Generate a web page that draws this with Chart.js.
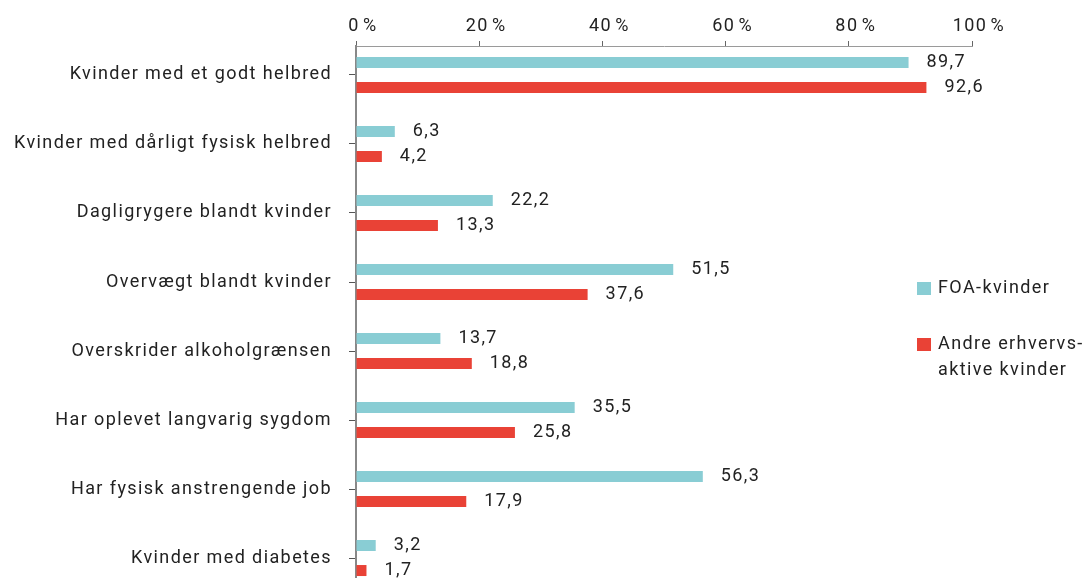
<!DOCTYPE html>
<html>
<head>
<meta charset="utf-8">
<script src="https://cdn.jsdelivr.net/npm/chart.js@4"></script>
<style>
  html, body { margin: 0; padding: 0; background: #fff; overflow: hidden; }
</style>
</head>
<body>
<canvas id="chart" width="1090" height="584"></canvas>
<script>
// Categories (top to bottom)
const categories = [
    'Kvinder med et godt helbred',
    'Kvinder med dårligt fysisk helbred',
    'Dagligrygere blandt kvinder',
    'Overvægt blandt kvinder',
    'Overskrider alkoholgrænsen',
    'Har oplevet langvarig sygdom',
    'Har fysisk anstrengende job',
    'Kvinder med diabetes'
];

// Series values (percent)
const foaValues = [89.7, 6.3, 22.2, 51.5, 13.7, 35.5, 56.3, 3.2];
const otherValues = [92.6, 4.2, 13.3, 37.6, 18.8, 25.8, 17.9, 1.7];

// Series names (legend, second one split over two lines)
const foaLabel = ['FOA-kvinder'];
const otherLabel = ['Andre erhvervs-', 'aktive kvinder'];

// Tick values on the x axis
const xTicks = [0, 20, 40, 60, 80, 100];

const colors = {
    foa: '#89cdd4',
    other: '#e94236',
    text: '#222222',
    axis: '#888888',
    tick: '#666666'
};

const fontFamily = 'Roboto, "Noto Sans", sans-serif';
const fontSize = 18;
const letterSpacing = '1.4px';

function formatValue(v) {
    return v.toFixed(1).replace('.', ',');
}

// The original font is spaced out a bit more than Roboto
const spacing = {
    id: 'spacing',
    beforeLayout(chart) { chart.ctx.letterSpacing = letterSpacing; },
    beforeDraw(chart) { chart.ctx.letterSpacing = letterSpacing; }
};

// Value labels right of each bar
const valueLabels = {
    id: 'valueLabels',
    afterDatasetsDraw(chart) {
        const ctx = chart.ctx;
        ctx.save();
        ctx.font = fontSize + 'px ' + fontFamily;
        ctx.fillStyle = colors.text;
        ctx.textAlign = 'left';
        ctx.textBaseline = 'middle';
        chart.data.datasets.forEach((ds, i) => {
            const meta = chart.getDatasetMeta(i);
            meta.data.forEach((bar, j) => {
                ctx.fillText(formatValue(ds.data[j]), bar.x + 18, bar.y);
            });
        });
        ctx.restore();
    }
};

// Legend at the right side of the plot
const sideLegend = {
    id: 'sideLegend',
    afterDraw(chart) {
        const ctx = chart.ctx;
        const area = chart.chartArea;
        const x = area.right - 55;
        ctx.save();
        ctx.font = fontSize + 'px ' + fontFamily;
        ctx.textAlign = 'left';
        ctx.textBaseline = 'middle';
        let y = 288;
        chart.data.datasets.forEach((ds) => {
            ctx.fillStyle = ds.backgroundColor;
            ctx.fillRect(x, y - 6, 14, 13);
            ctx.fillStyle = colors.text;
            ds.legendLines.forEach((line, k) => {
                ctx.fillText(line, x + 21, y + k * 26);
            });
            y += 56;
        });
        ctx.restore();
    }
};

new Chart(document.getElementById('chart'), {
    type: 'bar',
    data: {
        labels: categories,
        datasets: [
            {
                label: foaLabel.join(' '),
                legendLines: foaLabel,
                data: foaValues,
                backgroundColor: colors.foa,
                categoryPercentage: 0.725,
                barPercentage: 0.44
            },
            {
                label: otherLabel.join(' '),
                legendLines: otherLabel,
                data: otherValues,
                backgroundColor: colors.other,
                categoryPercentage: 0.725,
                barPercentage: 0.44
            }
        ]
    },
    options: {
        indexAxis: 'y',
        responsive: false,
        animation: false,
        layout: {
            padding: { top: 0, right: 118, bottom: 7, left: 0 }
        },
        plugins: {
            legend: { display: false },
            tooltip: { enabled: false }
        },
        scales: {
            x: {
                position: 'top',
                min: 0,
                max: 100,
                afterBuildTicks: (scale) => {
                    scale.ticks = xTicks.map(v => ({ value: v }));
                },
                afterFit: (scale) => {
                    scale.height = 46;
                },
                grid: {
                    drawOnChartArea: false,
                    drawTicks: true,
                    tickLength: 5,
                    color: colors.tick
                },
                border: {
                    display: true,
                    color: '#9a9a9a',
                    width: 1
                },
                ticks: {
                    color: colors.text,
                    padding: 4,
                    labelOffset: 7,
                    font: { family: fontFamily, size: fontSize },
                    callback: (v) => v + '\u200A%'
                }
            },
            y: {
                afterBuildTicks: (scale) => {
                    // top/bottom spacing of the original plot
                    scale._startValue = -0.42;
                    scale._valueRange = categories.length - 1 + 0.42 + 0.275;
                },
                afterFit: (scale) => {
                    scale.width = 356;
                    scale.paddingTop = 0;
                    scale.paddingBottom = 0;
                },
                grid: {
                    drawOnChartArea: false,
                    drawTicks: true,
                    tickLength: 7,
                    offset: false,
                    color: '#555555'
                },
                border: {
                    display: true,
                    color: colors.axis,
                    width: 2
                },
                ticks: {
                    color: colors.text,
                    padding: 17,
                    font: { family: fontFamily, size: fontSize }
                }
            }
        }
    },
    plugins: [spacing, valueLabels, sideLegend]
});
</script>
</body>
</html>
